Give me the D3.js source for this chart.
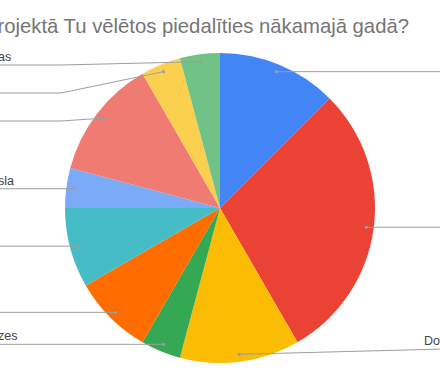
<!DOCTYPE html>
<html>
<head>
<meta charset="utf-8">
<script src="https://cdn.jsdelivr.net/npm/d3@7"></script>
<style>
    html, body { margin: 0; padding: 0; background: #fff; overflow: hidden; }
    svg { display: block; }
</style>
</head>
<body>
<div id="chart"></div>
<script>
// data (answers out of 24)
const titleText = "Kurā projektā Tu vēlētos piedalīties nākamajā gadā?";
const labels = ["", "", "Do", "zes", "", "", "sla", "", "", "as"];
const counts = [3, 7, 3, 1, 2, 2, 1, 3, 1, 1];
const colors = ["#4285f4", "#ea4335", "#fbbc04", "#34a853", "#ff6d01",
                "#46bdc6", "#7baaf7", "#f07b72", "#fcd04f", "#71c287"];

const width = 440, height = 380;
const cx = 220, cy = 208, radius = 155;

const svg = d3.select("#chart").append("svg")
    .attr("width", width)
    .attr("height", height)
    .attr("font-family", "'Liberation Sans', Arial, sans-serif");

svg.append("text")
    .attr("x", 409)
    .attr("y", 33)
    .attr("text-anchor", "end")
    .attr("font-size", 20.3)
    .attr("fill", "#757575")
    .text(titleText);

const pie = d3.pie().sort(null).value(d => d)(counts);
const arc = d3.arc().innerRadius(0).outerRadius(radius);

const g = svg.append("g").attr("transform", `translate(${cx},${cy})`);

g.selectAll("path")
    .data(pie)
    .enter().append("path")
    .attr("d", arc)
    .attr("fill", (d, i) => colors[i]);

// leader lines, google style
let items = pie.map((d, i) => {
    let a = (d.startAngle + d.endAngle) / 2;
    let r = radius * 0.952;
    let x = cx + Math.sin(a) * r;
    let y = cy - Math.cos(a) * r;
    return { i: i, x: x, y: y, ly: y, right: a < Math.PI };
});

// push labels apart on each side
let left = items.filter(d => !d.right).sort((a, b) => a.y - b.y);
left.forEach((d, k) => {
    let min = k == 0 ? 65 : left[k - 1].ly + 28;
    d.ly = Math.max(d.ly, min);
});
let right = items.filter(d => d.right).sort((a, b) => a.y - b.y);
right.forEach(d => { d.ly = Math.min(d.ly, 349); });

const lines = svg.append("g");

items.forEach(d => {
    let pts;
    if (d.right) {
        pts = [[d.x, d.y], [width + 5, d.ly]];
    } else {
        let ex = 61;
        pts = d.x > ex ? [[d.x, d.y], [ex, d.ly], [-5, d.ly]] : [[d.x, d.y], [-5, d.ly]];
    }
    lines.append("path")
        .attr("d", d3.line()(pts))
        .attr("fill", "none")
        .attr("stroke", "#9e9e9e")
        .attr("stroke-width", 1);
    lines.append("circle")
        .attr("cx", d.x)
        .attr("cy", d.y)
        .attr("r", 1.6)
        .attr("fill", "#9e9e9e");

    let txt = labels[d.i];
    if (txt) {
        lines.append("text")
            .attr("x", d.right ? 424 : -2)
            .attr("y", d.ly - 4)
            .attr("font-size", 12.5)
            .attr("fill", "#444")
            .text(txt);
    }
});
</script>
</body>
</html>
